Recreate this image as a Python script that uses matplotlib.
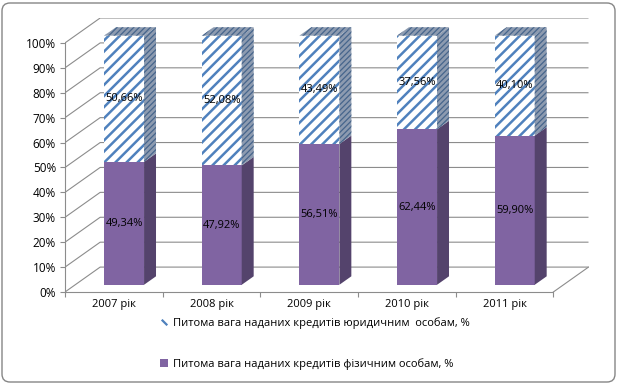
import numpy as np
import matplotlib.pyplot as plt
from matplotlib.patches import Polygon, Patch, FancyBboxPatch
from matplotlib.lines import Line2D
from matplotlib.transforms import IdentityTransform

plt.rcParams['font.family'] = ['Open Sans', 'DejaVu Sans']
plt.rcParams['hatch.linewidth'] = 1.8

# Дані
years = ['2007 рік', '2008 рік', '2009 рік', '2010 рік', '2011 рік']
fiz = [49.34, 47.92, 56.51, 62.44, 59.90]   # фізичні особи, %
jur = [50.66, 52.08, 43.49, 37.56, 40.10]   # юридичні особи, %
label_jur = 'Питома вага наданих кредитів юридичним  особам, %'
label_fiz = 'Питома вага наданих кредитів фізичним особам, %'

# Кольори
purple = '#8064A2'
purple_side = '#54436C'
blue = '#4F81BD'
grid_c = '#8C8C8C'
fs = 8

# "3D" глибина в одиницях даних
DX = 0.36
DY = 10.0
d0 = 0.29    # положення передньої грані стовпця по глибині
bd = 0.34    # глибина стовпця
w = 0.41     # ширина стовпця

fig = plt.figure(figsize=(6.18, 3.84), dpi=100)
ax = fig.add_axes([65 / 618, 92 / 384, 523.5 / 618, 274 / 384])
n = len(years)
x = np.arange(n)
ax.set_xlim(-0.5, n - 0.5 + DX)
ax.set_ylim(0, 100 + DY)

# Сітка на лівій і задній стінках
for v in range(0, 101, 10):
    ax.plot([-0.5, -0.5 + DX, n - 0.5 + DX], [v, v + DY, v + DY],
            color=grid_c, lw=0.8, zorder=1, solid_capstyle='butt')
# правий край підлоги
ax.plot([n - 0.5, n - 0.5 + DX], [0, DY], color=grid_c, lw=0.8, zorder=1)

# Передні грані стовпців
fx = x + d0 * DX
base = d0 * DY
ax.bar(fx, fiz, width=w, bottom=base, color=purple, lw=0, zorder=3)
ax.bar(fx, jur, width=w, bottom=base + np.array(fiz), facecolor='white',
       hatch='///', edgecolor=blue, lw=0, zorder=3)

# Бокові та верхні грані
side_face = '#8D9BB0'
side_hatch = '#46658C'
for i in range(n):
    xl = fx[i] - w / 2
    xr = fx[i] + w / 2
    b0 = base
    b1 = base + fiz[i]
    b2 = b1 + jur[i]
    sx, sy = bd * DX, bd * DY
    ax.add_patch(Polygon([(xr, b0), (xr + sx, b0 + sy), (xr + sx, b1 + sy), (xr, b1)],
                         closed=True, facecolor=purple_side, lw=0, zorder=3))
    with plt.rc_context({'hatch.linewidth': 0.9}):
        ax.add_patch(Polygon([(xr, b1), (xr + sx, b1 + sy), (xr + sx, b2 + sy), (xr, b2)],
                             closed=True, facecolor=side_face, edgecolor=side_hatch,
                             hatch='//////', lw=0, zorder=3))
        ax.add_patch(Polygon([(xl, b2), (xr, b2), (xr + sx, b2 + sy), (xl + sx, b2 + sy)],
                             closed=True, facecolor=side_face, edgecolor=side_hatch,
                             hatch='//////', lw=0, zorder=3))
    ax.text(fx[i], b0 + fiz[i] / 2, f'{fiz[i]:.2f}%'.replace('.', ','),
            ha='center', va='center', fontsize=fs, zorder=5)
    ax.text(fx[i], b1 + jur[i] / 2, f'{jur[i]:.2f}%'.replace('.', ','),
            ha='center', va='center', fontsize=fs, zorder=5)

# Осі
for s in ['top', 'right']:
    ax.spines[s].set_visible(False)
ax.spines['left'].set_bounds(0, 100)
ax.spines['bottom'].set_bounds(-0.5, n - 0.5)
for s in ['left', 'bottom']:
    ax.spines[s].set_color(grid_c)
    ax.spines[s].set_linewidth(0.8)
ax.set_yticks(range(0, 101, 10))
ax.set_yticklabels([f'{v}%' for v in range(0, 101, 10)], fontsize=8.5)
ax.set_xticks(np.arange(-0.5, n, 1.0))
ax.set_xticklabels([])
ax.set_xticks(x, minor=True)
ax.set_xticklabels(years, minor=True, fontsize=fs)
ax.tick_params(axis='both', which='major', length=3.5, color=grid_c, width=0.8)
ax.tick_params(axis='x', which='minor', length=0, pad=5)
ax.tick_params(axis='y', pad=3)

# Легенда
handles = [Line2D([], [], linestyle='none', marker=[(-1, 1), (1, -1)],
                  markersize=4, markeredgewidth=1.6, color=blue),
           Patch(facecolor=purple, lw=0)]
fig.legend(handles, [label_jur, label_fiz], loc='upper left',
           bbox_to_anchor=(150 / 618, 77 / 384), frameon=False, fontsize=fs,
           handlelength=0.7, handleheight=0.7, handletextpad=0.45, labelspacing=2.65)

# Рамка діаграми
fig.add_artist(FancyBboxPatch((2, 2), 613, 379, boxstyle='round,pad=0,rounding_size=8',
                              transform=IdentityTransform(), fill=False,
                              edgecolor='#868686', lw=1))

fig.savefig('out.png', dpi=100)
